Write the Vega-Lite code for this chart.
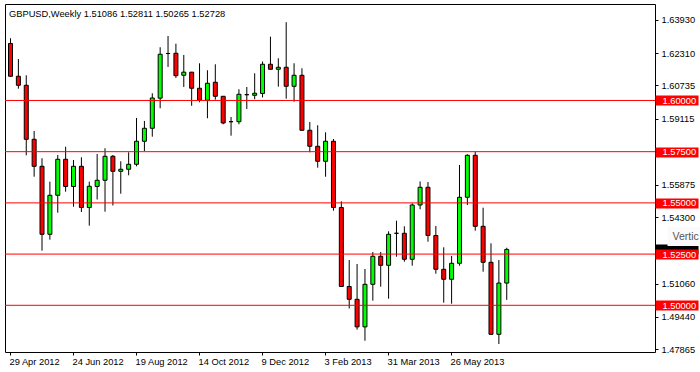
{
  "$schema": "https://vega.github.io/schema/vega-lite/v6.json",
  "width": 650,
  "height": 348,
  "autosize": {"type": "none"},
  "padding": {"left": 5, "top": 4, "right": 45, "bottom": 20},
  "background": "white",
  "config": {
    "view": {"stroke": "black", "strokeWidth": 1},
    "font": "Liberation Sans",
    "axis": {"grid": false, "domain": false, "title": null, "labelFont": "Liberation Sans", "labelFontSize": 9.3, "labelColor": "black", "tickColor": "black"}
  },
  "title": {
    "text": "GBPUSD,Weekly  1.51086 1.52811 1.50265 1.52728",
    "anchor": "start",
    "frame": "group",
    "orient": "top",
    "offset": -15,
    "dx": 4,
    "fontSize": 9.3,
    "fontWeight": "normal",
    "font": "Liberation Sans",
    "color": "black"
  },
  "datasets": {
    "candles": [
      {"date": "2012-04-29", "open": 1.62783, "high": 1.63037, "low": 1.61147, "close": 1.61182},
      {"date": "2012-05-06", "open": 1.61182, "high": 1.62026, "low": 1.60576, "close": 1.60742},
      {"date": "2012-05-13", "open": 1.60742, "high": 1.61230, "low": 1.57324, "close": 1.58105},
      {"date": "2012-05-20", "open": 1.58105, "high": 1.58511, "low": 1.56279, "close": 1.56787},
      {"date": "2012-05-27", "open": 1.56787, "high": 1.57178, "low": 1.52666, "close": 1.53467},
      {"date": "2012-06-03", "open": 1.53467, "high": 1.56035, "low": 1.53203, "close": 1.55371},
      {"date": "2012-06-10", "open": 1.55371, "high": 1.57339, "low": 1.54521, "close": 1.57129},
      {"date": "2012-06-17", "open": 1.57129, "high": 1.57744, "low": 1.55547, "close": 1.55801},
      {"date": "2012-06-24", "open": 1.55801, "high": 1.57095, "low": 1.54814, "close": 1.56787},
      {"date": "2012-07-01", "open": 1.56787, "high": 1.57227, "low": 1.54556, "close": 1.54775},
      {"date": "2012-07-08", "open": 1.54775, "high": 1.56035, "low": 1.53887, "close": 1.55811},
      {"date": "2012-07-15", "open": 1.55801, "high": 1.57388, "low": 1.55166, "close": 1.56104},
      {"date": "2012-07-22", "open": 1.56104, "high": 1.57666, "low": 1.54570, "close": 1.57275},
      {"date": "2012-07-29", "open": 1.57275, "high": 1.57339, "low": 1.54873, "close": 1.56543},
      {"date": "2012-08-05", "open": 1.56543, "high": 1.57031, "low": 1.55449, "close": 1.56641},
      {"date": "2012-08-12", "open": 1.56641, "high": 1.57471, "low": 1.56348, "close": 1.56885},
      {"date": "2012-08-19", "open": 1.56885, "high": 1.59146, "low": 1.56787, "close": 1.58008},
      {"date": "2012-08-26", "open": 1.58008, "high": 1.59000, "low": 1.57534, "close": 1.58643},
      {"date": "2012-09-02", "open": 1.58643, "high": 1.60352, "low": 1.58232, "close": 1.60122},
      {"date": "2012-09-09", "open": 1.60112, "high": 1.62598, "low": 1.59619, "close": 1.62256},
      {"date": "2012-09-16", "open": 1.62293, "high": 1.63149, "low": 1.61636, "close": 1.62293},
      {"date": "2012-09-23", "open": 1.62305, "high": 1.62773, "low": 1.61099, "close": 1.61211},
      {"date": "2012-09-30", "open": 1.61230, "high": 1.62222, "low": 1.60659, "close": 1.61382},
      {"date": "2012-10-07", "open": 1.61382, "high": 1.61392, "low": 1.59741, "close": 1.60596},
      {"date": "2012-10-14", "open": 1.60596, "high": 1.61816, "low": 1.59912, "close": 1.60010},
      {"date": "2012-10-21", "open": 1.60010, "high": 1.61475, "low": 1.59131, "close": 1.60840},
      {"date": "2012-10-28", "open": 1.60889, "high": 1.61768, "low": 1.60039, "close": 1.60205},
      {"date": "2012-11-04", "open": 1.60205, "high": 1.60215, "low": 1.58838, "close": 1.58901},
      {"date": "2012-11-11", "open": 1.58965, "high": 1.59194, "low": 1.58281, "close": 1.58965},
      {"date": "2012-11-18", "open": 1.58965, "high": 1.60547, "low": 1.58838, "close": 1.60303},
      {"date": "2012-11-25", "open": 1.60283, "high": 1.60659, "low": 1.59585, "close": 1.60283},
      {"date": "2012-12-02", "open": 1.60254, "high": 1.61328, "low": 1.60059, "close": 1.60352},
      {"date": "2012-12-09", "open": 1.60342, "high": 1.61904, "low": 1.60146, "close": 1.61768},
      {"date": "2012-12-16", "open": 1.61768, "high": 1.63115, "low": 1.61514, "close": 1.61523},
      {"date": "2012-12-23", "open": 1.61523, "high": 1.62061, "low": 1.60674, "close": 1.61621},
      {"date": "2012-12-30", "open": 1.61621, "high": 1.63823, "low": 1.60088, "close": 1.60693},
      {"date": "2013-01-06", "open": 1.60693, "high": 1.61816, "low": 1.59941, "close": 1.61230},
      {"date": "2013-01-13", "open": 1.61230, "high": 1.61572, "low": 1.58535, "close": 1.58545},
      {"date": "2013-01-20", "open": 1.58545, "high": 1.58950, "low": 1.57471, "close": 1.57764},
      {"date": "2013-01-27", "open": 1.57764, "high": 1.58789, "low": 1.56719, "close": 1.57031},
      {"date": "2013-02-03", "open": 1.57031, "high": 1.58447, "low": 1.56279, "close": 1.58008},
      {"date": "2013-02-10", "open": 1.58008, "high": 1.58120, "low": 1.54619, "close": 1.54775},
      {"date": "2013-02-17", "open": 1.54775, "high": 1.55078, "low": 1.50908, "close": 1.50918},
      {"date": "2013-02-24", "open": 1.50918, "high": 1.52212, "low": 1.49844, "close": 1.50293},
      {"date": "2013-03-03", "open": 1.50293, "high": 1.52017, "low": 1.48809, "close": 1.48947},
      {"date": "2013-03-10", "open": 1.48947, "high": 1.51772, "low": 1.48271, "close": 1.51025},
      {"date": "2013-03-17", "open": 1.51025, "high": 1.52603, "low": 1.50225, "close": 1.52393},
      {"date": "2013-03-24", "open": 1.52393, "high": 1.52603, "low": 1.50908, "close": 1.51953},
      {"date": "2013-03-31", "open": 1.51953, "high": 1.53613, "low": 1.50322, "close": 1.53467},
      {"date": "2013-04-07", "open": 1.53516, "high": 1.54131, "low": 1.52373, "close": 1.53516},
      {"date": "2013-04-14", "open": 1.53516, "high": 1.53857, "low": 1.52129, "close": 1.52246},
      {"date": "2013-04-21", "open": 1.52246, "high": 1.54980, "low": 1.51934, "close": 1.54897},
      {"date": "2013-04-28", "open": 1.54897, "high": 1.56045, "low": 1.54688, "close": 1.55762},
      {"date": "2013-05-05", "open": 1.55762, "high": 1.56021, "low": 1.53105, "close": 1.53408},
      {"date": "2013-05-12", "open": 1.53408, "high": 1.53872, "low": 1.51543, "close": 1.51758},
      {"date": "2013-05-19", "open": 1.51758, "high": 1.52832, "low": 1.50127, "close": 1.51270},
      {"date": "2013-05-26", "open": 1.51270, "high": 1.52407, "low": 1.50078, "close": 1.52051},
      {"date": "2013-06-02", "open": 1.52051, "high": 1.56851, "low": 1.51934, "close": 1.55273},
      {"date": "2013-06-09", "open": 1.55273, "high": 1.57373, "low": 1.54897, "close": 1.57324},
      {"date": "2013-06-16", "open": 1.57324, "high": 1.57500, "low": 1.53643, "close": 1.53857},
      {"date": "2013-06-23", "open": 1.53857, "high": 1.54766, "low": 1.51641, "close": 1.52100},
      {"date": "2013-06-30", "open": 1.52100, "high": 1.53027, "low": 1.48574, "close": 1.48584},
      {"date": "2013-07-07", "open": 1.48584, "high": 1.52212, "low": 1.48110, "close": 1.51086},
      {"date": "2013-07-14", "open": 1.51086, "high": 1.52811, "low": 1.50265, "close": 1.52728}
    ],
    "levels": [
      {"level": 1.6},
      {"level": 1.575},
      {"level": 1.55},
      {"level": 1.525},
      {"level": 1.5}
    ]
  },
  "layer": [
    {
      "data": {"name": "candles"},
      "mark": {"type": "rule", "color": "black", "strokeWidth": 1, "xOffset": 0.5, "clip": true},
      "encoding": {
        "x": {
          "field": "date",
          "type": "temporal",
          "scale": {
            "type": "utc",
            "domain": [
              {"year": 2012, "month": 4, "date": 29, "utc": true},
              {"year": 2013, "month": 11, "date": 18, "hours": 18, "utc": true}
            ]
          },
          "axis": {
            "orient": "bottom",
            "values": [
              {"year": 2012, "month": 4, "date": 29, "utc": true},
              {"year": 2012, "month": 6, "date": 24, "utc": true},
              {"year": 2012, "month": 8, "date": 19, "utc": true},
              {"year": 2012, "month": 10, "date": 14, "utc": true},
              {"year": 2012, "month": 12, "date": 9, "utc": true},
              {"year": 2013, "month": 2, "date": 3, "utc": true},
              {"year": 2013, "month": 3, "date": 31, "utc": true},
              {"year": 2013, "month": 5, "date": 26, "utc": true}
            ],
            "labelExpr": "utcFormat(datum.value, '%-d %b %Y')",
            "labelAlign": "left",
            "labelBaseline": "top",
            "labelPadding": 2,
            "labelOffset": -1,
            "labelFlush": false,
            "labelOverlap": false,
            "labelBound": false,
            "tickSize": 3
          }
        },
        "y": {
          "field": "low",
          "type": "quantitative",
          "scale": {"domain": [1.4772, 1.6471], "nice": false, "zero": false},
          "axis": {
            "orient": "right",
            "values": [1.6393, 1.6231, 1.60735, 1.59115, 1.55875, 1.543, 1.5106, 1.4944, 1.47865],
            "format": ".5f",
            "tickSize": 3,
            "labelPadding": 3,
            "labelAlign": "left",
            "labelBaseline": "middle",
            "labelFlush": false,
            "labelOverlap": false,
            "labelBound": false
          }
        },
        "y2": {"field": "high"}
      }
    },
    {
      "data": {"name": "candles"},
      "mark": {"type": "bar", "width": 4, "stroke": "black", "strokeWidth": 1, "xOffset": 0.5, "clip": true},
      "encoding": {
        "x": {"field": "date", "type": "temporal"},
        "y": {
          "field": "open",
          "type": "quantitative",
          "scale": {"domain": [1.4772, 1.6471], "nice": false, "zero": false},
          "axis": {
            "orient": "right",
            "values": [1.52728],
            "labels": false,
            "tickSize": 43,
            "tickWidth": 10,
            "tickColor": "black"
          }
        },
        "y2": {"field": "close"},
        "fill": {
          "condition": {"test": "datum.close > datum.open", "value": "#00ff00"},
          "value": "#ff0000"
        }
      }
    },
    {
      "data": {"name": "levels"},
      "mark": {"type": "rule", "color": "#ff0000", "strokeWidth": 1},
      "encoding": {
        "y": {
          "field": "level",
          "type": "quantitative",
          "scale": {"domain": [1.4772, 1.6471], "nice": false, "zero": false},
          "axis": {
            "orient": "right",
            "values": [1.6, 1.575, 1.55, 1.525, 1.5],
            "format": ".5f",
            "tickSize": 43,
            "tickWidth": 10,
            "tickColor": "#ff0000",
            "labelColor": "white",
            "labelPadding": -36,
            "labelAlign": "left",
            "labelBaseline": "middle",
            "labelFlush": false,
            "labelOverlap": false,
            "labelBound": false
          }
        }
      }
    },
    {
      "data": {"name": "levels"},
      "mark": {"type": "rule", "opacity": 0},
      "encoding": {
        "y": {
          "field": "level",
          "type": "quantitative",
          "scale": {"domain": [1.4772, 1.6471], "nice": false, "zero": false},
          "axis": {
            "orient": "right",
            "offset": 12,
            "values": [1.53359],
            "labelExpr": "'Vertic'",
            "tickSize": 40,
            "tickWidth": 19,
            "tickColor": "#fafafa",
            "labelColor": "#555555",
            "labelFontSize": 10.5,
            "labelPadding": -35,
            "labelAlign": "left",
            "labelBaseline": "middle",
            "labelFlush": false,
            "labelOverlap": false,
            "labelBound": false
          }
        }
      }
    }
  ],
  "resolve": {"axis": {"y": "independent"}}
}
